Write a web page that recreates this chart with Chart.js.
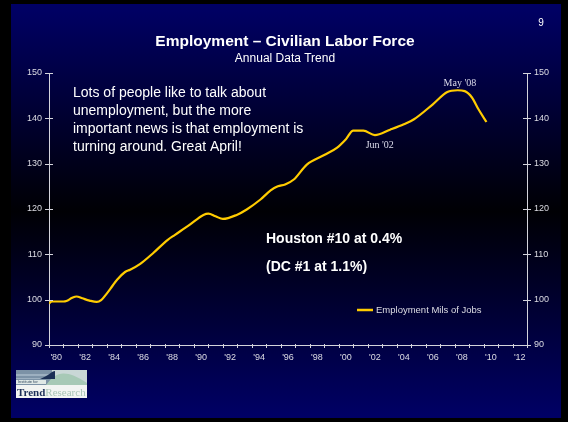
<!DOCTYPE html>
<html>
<head>
<meta charset="utf-8">
<script src="https://cdn.jsdelivr.net/npm/chart.js@4/dist/chart.umd.min.js"></script>
<style>
  html, body { margin: 0; padding: 0; background: #000; overflow: hidden; }
  #wrap { width: 568px; height: 422px; }
</style>
</head>
<body>
<div id="wrap"><canvas id="c" width="568" height="422"></canvas></div>
<script>
// Civilian labor force employment, millions of jobs (decimal year -> value)
const years = [1980.0, 1980.2, 1981.0, 1981.2, 1981.6, 1981.9, 1982.3, 1982.8, 1983.3, 1983.6,
               1984.0, 1984.35, 1984.7, 1985.25, 1985.6, 1986.3, 1987.2, 1988.2, 1988.7, 1989.7,
               1990.66, 1991.0, 1991.5, 1992.0, 1992.96, 1993.65, 1994.6, 1995.3, 1995.8, 1996.3,
               1996.9, 1997.8, 1999.0, 1999.87, 2000.5, 2001.0, 2001.7, 2002.5, 2003.55, 2004.5,
               2005.2, 2006.5, 2007.5, 2008.2, 2008.7, 2009.2, 2009.65, 2010.2];
const jobs  = [99.2, 99.6, 99.6, 99.7, 100.4, 100.7, 100.3, 99.8, 99.5, 99.9,
               101.4, 102.9, 104.4, 106.1, 106.6, 107.9, 110.3, 113.2, 114.3, 116.5,
               118.7, 119.0, 118.4, 117.8, 118.7, 119.9, 122.1, 124.1, 125.0, 125.4,
               126.5, 129.8, 131.9, 133.5, 135.4, 137.3, 137.3, 136.3, 137.5, 138.7,
               139.8, 143.1, 145.8, 146.2, 146.0, 144.6, 142.0, 139.2];

const seriesName = 'Employment Mils of Jobs';
const yearMin = 1980, yearMax = 2013;
const valueMin = 90, valueMax = 150, valueStep = 10;

// Called-out dates on the line
const callouts = [
  { text: "May '08", year: 2008.37, value: 146.2, dx: 0, dy: -7 },
  { text: "Jun '02", year: 2002.42, value: 136.4, dx: 6, dy: 11 }
];

const titleText = 'Employment \u2013 Civilian Labor Force';
const subtitleText = 'Annual Data Trend';
const pageNumber = '9';
const noteLines = [
  'Lots of people like to talk about',
  'unemployment, but the more',
  'important news is that employment is',
  'turning around. Great April!'
];
const rankLines = ['Houston #10 at 0.4%', '(DC #1 at 1.1%)'];

const SANS = '"Liberation Sans", Arial, Helvetica, sans-serif';
const SERIF = '"Liberation Serif", "Times New Roman", serif';
const AXIS_COLOR = '#d4d4dc';
const LABEL_COLOR = '#dcdce4';
const LINE_COLOR = '#ffcc00';

function yearLabel(v) {
  if (v % 2 !== 0 || v >= yearMax) return '';
  return "'" + String(v % 100).padStart(2, '0');
}

// Slide background: black frame with a navy-black-navy vertical gradient
const slideBackground = {
  id: 'slideBackground',
  beforeDraw(chart) {
    const ctx = chart.ctx;
    ctx.save();
    ctx.fillStyle = '#000';
    ctx.fillRect(0, 0, chart.width, chart.height);
    const top = 4, bottom = 418, left = 11, right = 561;
    const g = ctx.createLinearGradient(0, top, 0, bottom);
    g.addColorStop(0, '#000066');
    g.addColorStop(0.5, '#000004');
    g.addColorStop(1, '#000066');
    ctx.fillStyle = g;
    ctx.fillRect(left, top, right - left, bottom - top);
    ctx.restore();
  }
};

// Cross-style tick marks on both value axes and year ticks on the time axis
const tickMarks = {
  id: 'tickMarks',
  afterDraw(chart) {
    const ctx = chart.ctx;
    const { x, y } = chart.scales;
    ctx.save();
    ctx.strokeStyle = AXIS_COLOR;
    ctx.lineWidth = 1;
    ctx.beginPath();
    y.ticks.forEach(t => {
      const py = Math.round(y.getPixelForValue(t.value)) + 0.5;
      ctx.moveTo(x.left - 4, py); ctx.lineTo(x.left + 4, py);
      ctx.moveTo(x.right - 4, py); ctx.lineTo(x.right + 4, py);
    });
    const by = y.bottom;
    for (let yr = yearMin; yr <= yearMax; yr++) {
      const px = Math.round(x.getPixelForValue(yr)) + 0.5;
      ctx.moveTo(px, by - 1); ctx.lineTo(px, by + 3);
    }
    ctx.stroke();
    ctx.restore();
  }
};

function drawLogo(ctx) {
  const x = 16, y = 370, w = 71;
  ctx.save();
  // upper band
  ctx.fillStyle = '#c9d7d6';
  ctx.fillRect(x, y, w, 15);
  ctx.fillStyle = '#7c92a6';
  ctx.fillRect(x, y, 36, 15);
  ctx.fillStyle = '#9db0c0';
  ctx.fillRect(x, y + 4, 36, 2);
  ctx.fillRect(x, y + 8, 36, 1);
  // light bell curve
  ctx.fillStyle = '#a7c9b6';
  ctx.beginPath();
  ctx.moveTo(x + 30, y + 15);
  ctx.bezierCurveTo(x + 40, y + 1, x + 50, y - 1, x + 71, y + 13);
  ctx.lineTo(x + 71, y + 15);
  ctx.closePath();
  ctx.fill();
  // dark wedge
  ctx.fillStyle = '#1b2f55';
  ctx.beginPath();
  ctx.moveTo(x + 24, y + 9);
  ctx.bezierCurveTo(x + 32, y + 6, x + 36, y + 1, x + 39, y + 1);
  ctx.lineTo(x + 39, y + 9);
  ctx.closePath();
  ctx.fill();
  ctx.fillStyle = '#dfe8e6';
  ctx.fillRect(x, y + 10, 30, 4);
  ctx.fillStyle = '#33485e';
  ctx.font = '4px ' + SANS;
  ctx.textBaseline = 'middle';
  ctx.fillText('Institute for', x + 2, y + 12);
  // lower band with wordmark
  ctx.fillStyle = '#f2f4f2';
  ctx.fillRect(x, y + 15, w, 13);
  ctx.font = 'bold 11px ' + SERIF;
  ctx.textBaseline = 'alphabetic';
  ctx.fillStyle = '#1d2f58';
  ctx.fillText('Trend', x + 1, y + 26);
  const tw = ctx.measureText('Trend').width;
  ctx.font = '11px ' + SERIF;
  ctx.fillStyle = '#a9c4b6';
  ctx.fillText('Research', x + 1 + tw, y + 26);
  ctx.restore();
}

// Titles, notes, callouts, legend and logo
const slideText = {
  id: 'slideText',
  afterDraw(chart) {
    const ctx = chart.ctx;
    const { x, y } = chart.scales;
    ctx.save();
    ctx.fillStyle = '#ffffff';
    ctx.textBaseline = 'middle';
    ctx.textAlign = 'center';
    ctx.font = 'bold 15.5px ' + SANS;
    ctx.fillText(titleText, 285, 42);
    ctx.font = '12px ' + SANS;
    ctx.fillText(subtitleText, 285, 59);
    ctx.font = '10px ' + SANS;
    ctx.fillText(pageNumber, 541, 23);

    ctx.textAlign = 'left';
    ctx.font = '14px ' + SANS;
    noteLines.forEach((line, i) => ctx.fillText(line, 73, 93 + i * 18));
    ctx.font = 'bold 14px ' + SANS;
    rankLines.forEach((line, i) => ctx.fillText(line, 266, 239 + i * 28));

    // callouts
    ctx.textAlign = 'center';
    ctx.font = '10px ' + SERIF;
    ctx.fillStyle = '#dcdcec';
    callouts.forEach(c => {
      ctx.fillText(c.text, x.getPixelForValue(c.year) + c.dx, y.getPixelForValue(c.value) + c.dy);
    });

    // legend
    const ds = chart.data.datasets[0];
    ctx.strokeStyle = ds.borderColor;
    ctx.lineWidth = 2.5;
    ctx.beginPath();
    ctx.moveTo(357, 310); ctx.lineTo(373, 310);
    ctx.stroke();
    ctx.textAlign = 'left';
    ctx.font = '9.5px ' + SANS;
    ctx.fillStyle = '#dcdce4';
    ctx.fillText(ds.label, 376, 310);

    drawLogo(ctx);
    ctx.restore();
  }
};

const points = years.map((yr, i) => ({ x: yr, y: jobs[i] }));

const tickFont = { family: SANS, size: 9 };
const hiddenGrid = { display: false, drawTicks: false, tickLength: 0 };

new Chart(document.getElementById('c'), {
  type: 'line',
  data: {
    datasets: [{
      label: seriesName,
      data: points,
      borderColor: LINE_COLOR,
      borderWidth: 2.2,
      pointRadius: 0,
      cubicInterpolationMode: 'monotone',
      xAxisID: 'x',
      yAxisID: 'y'
    }]
  },
  options: {
    responsive: false,
    animation: false,
    devicePixelRatio: 1,
    layout: { padding: { top: 73, left: 0, right: 0, bottom: 0 } },
    plugins: { legend: { display: false }, tooltip: { enabled: false } },
    scales: {
      x: {
        type: 'linear',
        position: 'bottom',
        min: yearMin,
        max: yearMax,
        afterFit: s => { s.height = 77; },
        grid: hiddenGrid,
        border: { display: true, color: AXIS_COLOR, width: 1 },
        ticks: {
          stepSize: 1,
          autoSkip: false,
          maxRotation: 0,
          maxTicksLimit: 100,
          labelOffset: 7.25,
          padding: 7,
          color: LABEL_COLOR,
          font: tickFont,
          callback: v => yearLabel(v)
        }
      },
      y: {
        position: 'left',
        min: valueMin,
        max: valueMax,
        afterFit: s => { s.width = 49; },
        grid: hiddenGrid,
        border: { display: true, color: AXIS_COLOR, width: 1 },
        ticks: { stepSize: valueStep, padding: 7, color: LABEL_COLOR, font: tickFont }
      },
      y2: {
        position: 'right',
        min: valueMin,
        max: valueMax,
        afterFit: s => { s.width = 41; },
        grid: hiddenGrid,
        border: { display: true, color: AXIS_COLOR, width: 1 },
        ticks: { stepSize: valueStep, padding: 7, color: LABEL_COLOR, font: tickFont }
      }
    }
  },
  plugins: [slideBackground, tickMarks, slideText]
});
</script>
</body>
</html>
